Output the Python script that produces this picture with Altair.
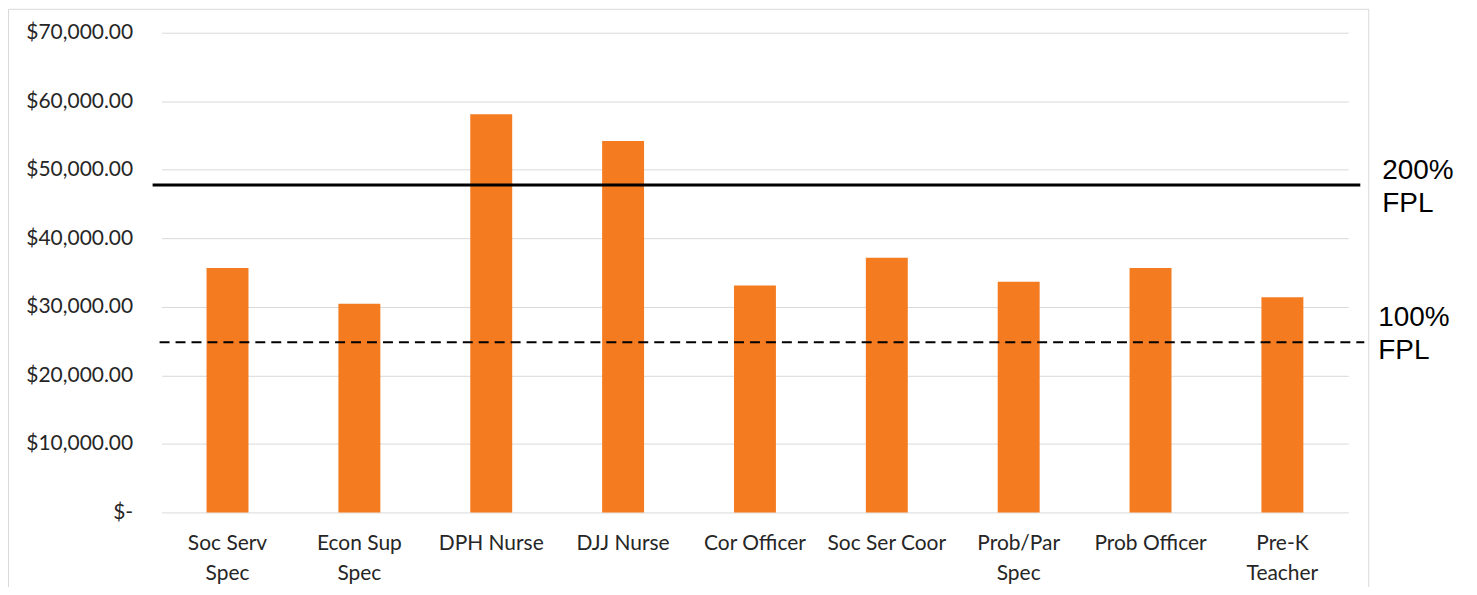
import altair as alt
import pandas as pd

# ---- data ----
categories = ["Soc Serv|Spec", "Econ Sup|Spec", "DPH Nurse", "DJJ Nurse", "Cor Officer",
              "Soc Ser Coor", "Prob/Par|Spec", "Prob Officer", "Pre-K|Teacher"]
salaries = [35650, 30450, 58100, 54200, 33100, 37150, 33650, 35650, 31400]

fpl_levels = [47780, 24830]
fpl_labels = ["200%|FPL", "100%|FPL"]

y_ticks = [0, 10000, 20000, 30000, 40000, 50000, 60000, 70000]

bars_df = pd.DataFrame({"job": categories, "salary": salaries})
fpl200 = pd.DataFrame({"salary": [fpl_levels[0]], "label": [fpl_labels[0]]})
fpl100 = pd.DataFrame({"salary": [fpl_levels[1]], "label": [fpl_labels[1]]})
frame_df = pd.DataFrame({"k": [0]})

W, H = 1190, 481
yscale = alt.Scale(domain=[0, 70000], nice=False, zero=True)
LABEL_FONT = "Lato"
LABEL_COLOR = "#262626"

y_axis = alt.Axis(title=None, values=y_ticks, domain=False, ticks=False, tickSize=0,
                  grid=True, gridColor="#D9D9D9", gridWidth=1,
                  labelExpr="datum.value == 0 ? '$-\u2002' : '$' + format(datum.value, ',.2f')",
                  labelFont=LABEL_FONT, labelFontSize=21, labelColor=LABEL_COLOR,
                  labelPadding=29, labelOverlap=False, labelLimit=300)
Y = alt.Y("salary:Q", scale=yscale, axis=y_axis)

frame = alt.Chart(frame_df).mark_rect(filled=False, stroke="#D9D9D9", strokeWidth=1).encode(
    x=alt.value(-153.5), x2=alt.value(1210.5), y=alt.value(-23.5), y2=alt.value(600)
)

bars = alt.Chart(bars_df).mark_bar(color="#F47B20").encode(
    x=alt.X("job:N", sort=categories,
            scale=alt.Scale(paddingInner=0.682, paddingOuter=0.341),
            axis=alt.Axis(title=None, labelAngle=0, domain=False, ticks=False, tickSize=0,
                          labelExpr="split(datum.label, '|')", labelFont=LABEL_FONT,
                          labelFontSize=21, labelColor=LABEL_COLOR, labelPadding=20,
                          labelLineHeight=30, labelOverlap=False, labelLimit=300, grid=False)),
    y=Y,
)

rule200 = alt.Chart(fpl200).mark_rule(color="black", strokeWidth=3).encode(
    y=Y, x=alt.value(-9), x2=alt.value(1202)
)
rule100 = alt.Chart(fpl100).mark_rule(color="black", strokeWidth=2, strokeDash=[10, 6]).encode(
    y=Y, x=alt.value(-2), x2=alt.value(1206)
)

text200 = alt.Chart(fpl200).mark_text(
    align="left", baseline="alphabetic", dy=-6, lineBreak="|", lineHeight=33,
    font="Liberation Sans", fontSize=28, color="black"
).encode(y=Y, x=alt.value(1224), text="label:N")

text100 = alt.Chart(fpl100).mark_text(
    align="left", baseline="alphabetic", dy=-16, lineBreak="|", lineHeight=33,
    font="Liberation Sans", fontSize=28, color="black"
).encode(y=Y, x=alt.value(1220), text="label:N")

chart = alt.layer(frame, bars, rule200, rule100, text200, text100).properties(
    width=W, height=H,
    padding={"left": 154, "top": 24, "right": 121, "bottom": 74},
    autosize=alt.AutoSizeParams(type="none"),
    background="white",
).configure_view(stroke=None)

chart.save("out.html", embed_options={"renderer": "svg", "actions": False})
